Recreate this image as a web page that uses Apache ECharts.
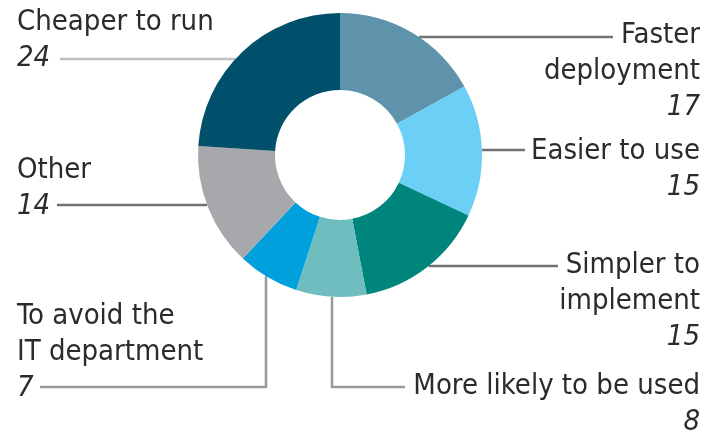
<!DOCTYPE html>
<html>
<head>
<meta charset="utf-8">
<script src="https://cdn.jsdelivr.net/npm/echarts@6/dist/echarts.min.js"></script>
<style>html,body{margin:0;padding:0;background:#fff}#c{width:706px;height:432px}</style>
</head>
<body>
<div id="c"></div>
<script>
// Data
var categories = ['Faster\ndeployment', 'Easier to use', 'Simpler to\nimplement', 'More likely to be used', 'To avoid the\nIT department', 'Other', 'Cheaper to run'];
var values = [17, 15, 15, 8, 7, 14, 24];
var palette = ['#5e93ab', '#6ccff6', '#00857c', '#6fbdbf', '#00a0dc', '#a6a8ab', '#004f6b'];

// Layout (positions only)
var CX = 340, CY = 155, R0 = 65, R1 = 142;
var layoutCfg = [
  {side: 1, ty: 17, ly: 37, end: 613, lc: '#737373'},
  {side: 1, ty: 133, ly: 150, end: 525, lc: '#737373'},
  {side: 1, ty: 247, ly: 266, end: 558, lc: '#737373'},
  {side: 1, ty: 368, vx: 332, ly: 387, end: 405, lc: '#999999'},
  {side: -1, ty: 298, vx: 266, ly: 387, end: 40, lc: '#999999'},
  {side: -1, ty: 152, ly: 205, end: 57, lc: '#737373'},
  {side: -1, ty: 4, ly: 59, end: 60, lc: '#c0c0c0'}
];

var chart = echarts.init(document.getElementById('c'), null, {renderer: 'canvas'});
var FONT = "'DejaVu Sans Condensed', 'DejaVu Sans', sans-serif";

var data = categories.map(function (c, i) {
  return {
    name: c, value: values[i],
    itemStyle: {color: palette[i]},
    labelLine: {lineStyle: {color: layoutCfg[i].lc}}
  };
});

chart.setOption({
  animation: false,
  series: [{
    type: 'pie',
    center: [CX, CY],
    radius: [R0, R1],
    startAngle: 90,
    clockwise: true,
    avoidLabelOverlap: false,
    emphasis: {disabled: true},
    data: data,
    label: {
      show: true,
      position: 'outside',
      formatter: function (p) { return '{n|' + p.name + '}\n{v|' + p.value + '}'; },
      rich: {
        n: {fontFamily: FONT, fontSize: 29, lineHeight: 36, color: '#2b2b2b'},
        v: {fontFamily: FONT, fontSize: 29, lineHeight: 36, color: '#2b2b2b', fontStyle: 'italic'}
      }
    },
    labelLine: {show: true, lineStyle: {width: 2.5}},
    labelLayout: function (params) {
      var c = layoutCfg[params.dataIndex];
      var pts;
      if (c.vx != null) {
        var sy = CY + Math.sqrt(R1 * R1 - (c.vx - CX) * (c.vx - CX));
        pts = [[c.vx, sy], [c.vx, c.ly], [c.end, c.ly]];
      } else {
        var sx = CX + c.side * Math.sqrt(R1 * R1 - (c.ly - CY) * (c.ly - CY));
        pts = [[sx, c.ly], [(sx + c.end) / 2, c.ly], [c.end, c.ly]];
      }
      return {
        x: c.side > 0 ? 700 : 17,
        y: c.ty,
        align: c.side > 0 ? 'right' : 'left',
        verticalAlign: 'top',
        labelLinePoints: pts
      };
    }
  }]
});
</script>
</body>
</html>
